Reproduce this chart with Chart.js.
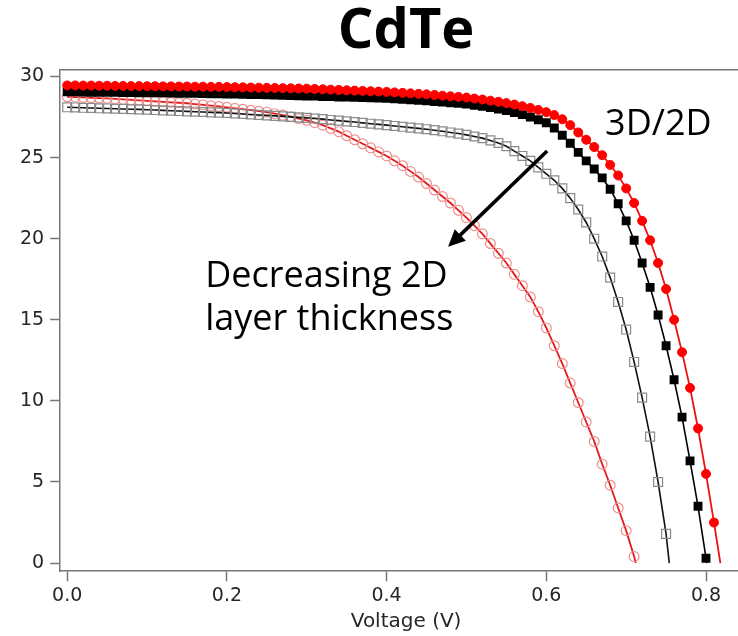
<!DOCTYPE html>
<html><head><meta charset="utf-8">
<script src="https://cdn.jsdelivr.net/npm/chart.js@4/dist/chart.umd.min.js"></script>
<style>
html,body{margin:0;padding:0;background:#fff;overflow:hidden;width:738px;height:636px}
#wrap{width:752px;height:636px}
</style></head><body>
<div id="wrap"><canvas id="c" width="752" height="636"></canvas></div>
<script>
// Voltage grid (V)
const voltage = [0.00,0.01,0.02,0.03,0.04,0.05,0.06,0.07,0.08,0.09,
 0.10,0.11,0.12,0.13,0.14,0.15,0.16,0.17,0.18,0.19,
 0.20,0.21,0.22,0.23,0.24,0.25,0.26,0.27,0.28,0.29,
 0.30,0.31,0.32,0.33,0.34,0.35,0.36,0.37,0.38,0.39,
 0.40,0.41,0.42,0.43,0.44,0.45,0.46,0.47,0.48,0.49,
 0.50,0.51,0.52,0.53,0.54,0.55,0.56,0.57,0.58,0.59,
 0.60,0.61,0.62,0.63,0.64,0.65,0.66,0.67,0.68,0.69,
 0.70,0.71,0.72,0.73,0.74,0.75,0.76,0.77,0.78,0.79,
 0.80,0.81];

// 3D/2D (red filled circles)
const jRedFilled = [29.45,29.45,29.44,29.44,29.43,29.43,29.42,29.42,29.41,29.41,
 29.40,29.40,29.39,29.39,29.38,29.38,29.37,29.37,29.36,29.36,
 29.35,29.34,29.33,29.32,29.31,29.30,29.29,29.28,29.27,29.26,
 29.25,29.23,29.21,29.19,29.17,29.15,29.13,29.11,29.09,29.07,
 29.05,29.02,28.99,28.96,28.93,28.90,28.86,28.82,28.78,28.74,
 28.70,28.64,28.58,28.51,28.44,28.36,28.27,28.17,28.06,27.94,
 27.80,27.62,27.36,27.00,26.55,26.10,25.65,25.15,24.55,23.90,
 23.10,22.20,21.10,19.90,18.50,16.90,15.00,13.00,10.80,8.30,
 5.50,2.50];

// black filled squares
const jBlackFilled = [29.05,29.05,29.04,29.03,29.03,29.02,29.02,29.01,29.01,29.00,
 29.00,28.99,28.99,28.98,28.97,28.97,28.96,28.95,28.94,28.93,
 28.92,28.91,28.90,28.89,28.88,28.87,28.86,28.84,28.83,28.81,
 28.80,28.79,28.77,28.76,28.74,28.73,28.71,28.70,28.68,28.67,
 28.65,28.62,28.59,28.56,28.53,28.50,28.46,28.42,28.38,28.34,
 28.30,28.23,28.16,28.08,27.99,27.90,27.78,27.65,27.50,27.33,
 27.15,26.82,26.38,25.88,25.32,24.80,24.30,23.75,23.05,22.15,
 21.10,19.90,18.50,17.00,15.30,13.40,11.30,9.00,6.30,3.50,
 0.30];

// black open squares
const jBlackOpen = [28.10,28.09,28.07,28.06,28.04,28.03,28.01,28.00,27.98,27.97,
 27.95,27.93,27.91,27.89,27.87,27.85,27.83,27.81,27.79,27.77,
 27.75,27.72,27.69,27.66,27.63,27.60,27.57,27.54,27.51,27.48,
 27.45,27.41,27.37,27.32,27.28,27.23,27.19,27.14,27.09,27.05,
 27.00,26.95,26.90,26.85,26.80,26.75,26.69,26.62,26.55,26.48,
 26.40,26.30,26.20,26.06,25.90,25.70,25.40,25.10,24.80,24.40,
 24.00,23.60,23.10,22.50,21.80,21.00,20.00,18.90,17.60,16.10,
 14.40,12.40,10.20,7.80,5.00,1.80];

// red open circles
const jRedOpen = [28.75,28.73,28.71,28.69,28.67,28.65,28.62,28.59,28.56,28.53,
 28.50,28.47,28.44,28.41,28.38,28.35,28.30,28.25,28.20,28.15,
 28.10,28.04,27.98,27.92,27.86,27.80,27.71,27.62,27.52,27.41,
 27.30,27.15,27.00,26.80,26.60,26.35,26.10,25.85,25.60,25.35,
 25.10,24.80,24.50,24.15,23.80,23.40,23.00,22.60,22.20,21.75,
 21.30,20.80,20.30,19.70,19.10,18.50,17.80,17.10,16.40,15.50,
 14.50,13.40,12.30,11.10,9.90,8.70,7.50,6.10,4.80,3.40,
 2.00,0.40];

// open-circuit voltages where the fit lines reach zero current
const vocRedFilled = 0.818, vocBlackFilled = 0.801, vocBlackOpen = 0.754, vocRedOpen = 0.712;

const yTicks = [0,5,10,15,20,25,30];
const xTicks = [0.0,0.2,0.4,0.6,0.8];

const annotationTexts = [
  {text:'3D/2D', v:0.6736, j:26.37},
  {text:'Decreasing 2D', v:0.1728, j:17.0},
  {text:'layer thickness', v:0.1728, j:14.36}
];
const arrowFrom = {v:0.601, j:25.4}, arrowTo = {v:0.477, j:19.5};

const pts = ys => ys.map((y,i)=>({x:voltage[i], y}));
const fit = (ys, voc) => pts(ys).concat([{x:voc, y:0}]);

const annotate = {
  id:'annotate',
  afterDatasetsDraw(chart){
    const {ctx, scales:{x,y}} = chart;
    ctx.save();
    ctx.fillStyle='#000';
    ctx.font='36px "Open Sans"';
    ctx.textAlign='left'; ctx.textBaseline='alphabetic';
    annotationTexts.forEach(a=>ctx.fillText(a.text, x.getPixelForValue(a.v), y.getPixelForValue(a.j)));
    const x1=x.getPixelForValue(arrowFrom.v), y1=y.getPixelForValue(arrowFrom.j);
    const x2=x.getPixelForValue(arrowTo.v), y2=y.getPixelForValue(arrowTo.j);
    const ang=Math.atan2(y2-y1,x2-x1), c=Math.cos(ang), s=Math.sin(ang);
    const head=17, hw=8;
    const bx=x2-head*c, by=y2-head*s;
    ctx.strokeStyle='#000'; ctx.lineWidth=3.5;
    ctx.beginPath(); ctx.moveTo(x1,y1); ctx.lineTo(bx+2*c,by+2*s); ctx.stroke();
    ctx.beginPath(); ctx.moveTo(x2,y2); ctx.lineTo(bx-hw*s,by+hw*c); ctx.lineTo(bx+hw*s,by-hw*c); ctx.closePath(); ctx.fill();
    ctx.restore();
  }
};

const tickFont = {family:'DejaVu Sans', size:19};
const axisColor = '#777';
const textColor = '#262626';

new Chart(document.getElementById('c'), {
  type:'scatter',
  data:{datasets:[
    {label:'3D/2D', data:pts(jRedFilled), pointStyle:'circle', pointRadius:4.5, backgroundColor:'#ff0000', borderColor:'#ff0000', borderWidth:1, showLine:false},
    {label:'3D/2D fit', data:fit(jRedFilled,vocRedFilled), showLine:true, pointRadius:0, borderColor:'#ee1111', borderWidth:1.8, fill:false},
    {label:'black filled', data:pts(jBlackFilled), pointStyle:'rect', pointRadius:6.3, backgroundColor:'#000', borderColor:'#000', borderWidth:0, showLine:false},
    {label:'black filled fit', data:fit(jBlackFilled,vocBlackFilled), showLine:true, pointRadius:0, borderColor:'#000', borderWidth:1.6, fill:false},
    {label:'black open', data:pts(jBlackOpen), pointStyle:'rect', pointRadius:6.3, backgroundColor:'rgba(0,0,0,0)', borderColor:'#8a8a8a', borderWidth:1.2, showLine:false},
    {label:'black open fit', data:fit(jBlackOpen,vocBlackOpen), showLine:true, pointRadius:0, borderColor:'#111', borderWidth:1.6, fill:false},
    {label:'red open', data:pts(jRedOpen), pointStyle:'circle', pointRadius:4.9, backgroundColor:'rgba(0,0,0,0)', borderColor:'#ef8f8f', borderWidth:1.2, showLine:false},
    {label:'red open fit', data:fit(jRedOpen,vocRedOpen), showLine:true, pointRadius:0, borderColor:'#e41a1c', borderWidth:1.8, fill:false}
  ]},
  options:{
    responsive:false, animation:false, events:[],
    layout:{autoPadding:false, padding:{left:14,right:0,top:0,bottom:0}},
    plugins:{
      legend:{display:false}, tooltip:{enabled:false},
      title:{display:true, text:'CdTe', fullSize:false, color:'#000',
        font:{family:'Open Sans', weight:'bold', size:56, lineHeight:1.15}, padding:{top:0,bottom:5.6}}
    },
    scales:{
      x:{type:'linear', position:'bottom', min:-0.0088, max:0.8576,
        afterBuildTicks: s => { s.ticks = xTicks.map(v=>({value:v})); },
        ticks:{callback:v=>Number(v).toFixed(1), font:tickFont, color:textColor, padding:3, maxRotation:0, autoSkip:false},
        grid:{display:true, drawOnChartArea:false, drawTicks:true, tickLength:10, tickColor:axisColor, tickWidth:1.5},
        border:{display:true, color:axisColor, width:1.5},
        title:{display:true, text:'Voltage (V)', font:{family:'DejaVu Sans', size:20}, color:textColor, padding:{top:0,bottom:2}}},
      x2:{type:'linear', position:'top', min:-0.0088, max:0.8576,
        ticks:{display:false}, grid:{display:false, drawTicks:false, tickLength:0},
        border:{display:true, color:axisColor, width:1.5}},
      y:{type:'linear', min:-0.5, max:30.4,
        afterBuildTicks: s => { s.ticks = yTicks.map(v=>({value:v})); },
        ticks:{font:tickFont, color:textColor, padding:6, autoSkip:false},
        grid:{display:true, drawOnChartArea:false, drawTicks:true, tickLength:10, tickColor:axisColor, tickWidth:1.5},
        border:{display:true, color:axisColor, width:1.5}}
    }
  },
  plugins:[annotate]
});
</script>
</body></html>
